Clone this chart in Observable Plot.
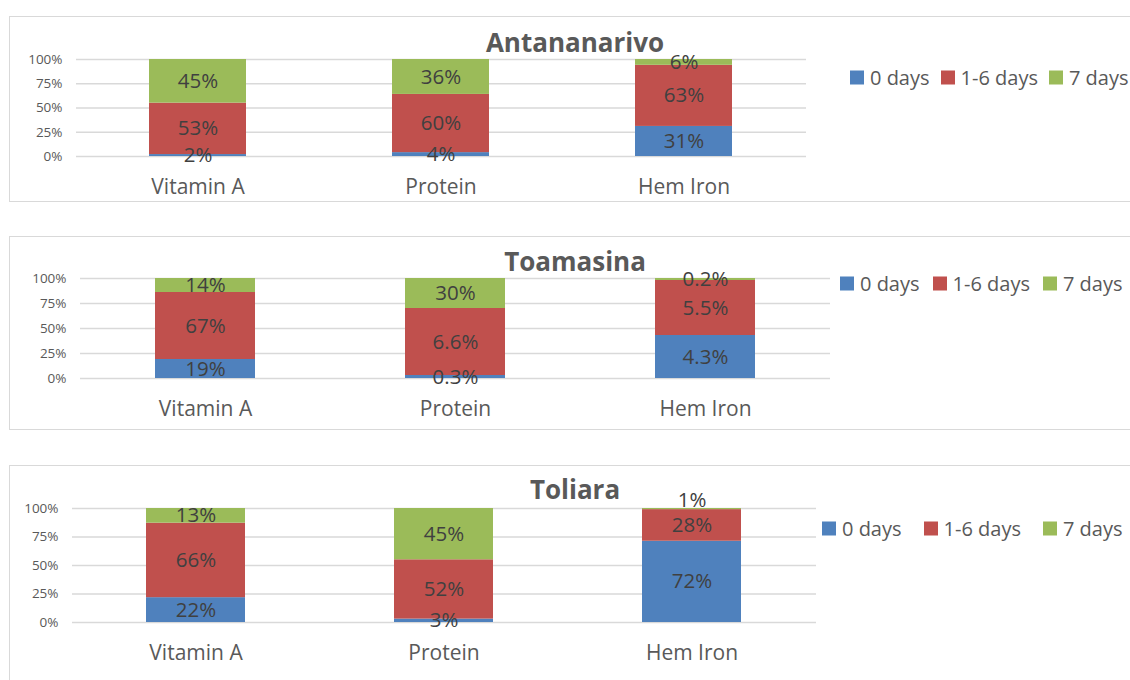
<!DOCTYPE html>
<html><head><meta charset="utf-8">
<script src="https://cdn.jsdelivr.net/npm/d3@7"></script>
<script src="https://cdn.jsdelivr.net/npm/@observablehq/plot@0.6"></script>
<style>
html,body{margin:0;padding:0;background:#fff;overflow:hidden}
#root{position:relative;width:1130px;height:680px;overflow:hidden;font-family:"Open Sans",sans-serif}
.frame{position:absolute;left:9px;width:1300px;border:1.5px solid #d9d9d9;box-sizing:border-box}
.title{position:absolute;transform:translate(-50%,-50%);font-weight:bold;font-size:26px;color:#595959;white-space:nowrap}
.legend{position:absolute;display:flex;align-items:center;font-size:20px;color:#595959;white-space:nowrap;transform:translateY(-50%)}
.sw{display:inline-block;width:14px;height:14px;margin-right:6px}
.chart{position:absolute;left:0}
</style></head><body><div id="root"></div>
<script>
const categories = ["Vitamin A", "Protein", "Hem Iron"];
const seriesNames = ["0 days", "1-6 days", "7 days"];
const seriesColors = ["#4f81bd", "#c0504d", "#9bbb59"];
const yTicks = [0, 0.25, 0.5, 0.75, 1];

const antananarivo0 = [2, 4, 31];
const antananarivo16 = [53, 60, 63];
const antananarivo7 = [45, 36, 6];

const toamasina0 = [19, 3, 43];
const toamasina16 = [67, 67, 55];
const toamasina7 = [14, 30, 2];
const toamasinaLabels0 = ["19%", "0.3%", "4.3%"];
const toamasinaLabels16 = ["67%", "6.6%", "5.5%"];
const toamasinaLabels7 = ["14%", "30%", "0.2%"];

const toliara0 = [22, 3, 72];
const toliara16 = [66, 52, 28];
const toliara7 = [13, 45, 1];

function pct(arr) { return arr.map(v => v + "%"); }

const panels = [
  {name: "Antananarivo", vals: [antananarivo0, antananarivo16, antananarivo7],
   labels: [pct(antananarivo0), pct(antananarivo16), pct(antananarivo7)], lift: false,
   frameTop: 16, frameH: 186, svgH: 185, width: 820, mL: 76, mR: 14, mT: 43, plotH: 97,
   titleX: 575, titleY: 42, legendX: 850, legendY: 77, itemGap: 11},
  {name: "Toamasina", vals: [toamasina0, toamasina16, toamasina7],
   labels: [toamasinaLabels0, toamasinaLabels16, toamasinaLabels7], lift: false,
   frameTop: 236, frameH: 194, svgH: 193, width: 845, mL: 80, mR: 15, mT: 42, plotH: 100,
   titleX: 575, titleY: 261, legendX: 840, legendY: 283, itemGap: 13},
  {name: "Toliara", vals: [toliara0, toliara16, toliara7],
   labels: [pct(toliara0), pct(toliara16), pct(toliara7)], lift: true,
   frameTop: 465, frameH: 300, svgH: 215, width: 830, mL: 72, mR: 14, mT: 43, plotH: 114,
   titleX: 575, titleY: 489, legendX: 822, legendY: 528, itemGap: 22}
];

const root = document.getElementById("root");
const fmt = d3.format(".0%");

for (const p of panels) {
  const frame = document.createElement("div");
  frame.className = "frame";
  frame.style.top = p.frameTop + "px";
  frame.style.height = p.frameH + "px";
  root.appendChild(frame);

  const rows = [];
  seriesNames.forEach((s, si) => {
    categories.forEach((c, ci) => {
      rows.push({category: c, series: s, value: p.vals[si][ci], label: p.labels[si][ci],
                 lifted: p.lift && p.vals[si][ci] <= 1});
    });
  });

  const chart = Plot.plot({
    width: p.width,
    height: p.svgH,
    marginLeft: p.mL,
    marginRight: p.mR,
    marginTop: p.mT,
    marginBottom: p.svgH - p.mT - p.plotH,
    style: {fontFamily: "'Open Sans', sans-serif", fontSize: "20px", color: "#595959", background: "transparent", overflow: "visible"},
    x: {domain: categories, paddingInner: 0.6, paddingOuter: 0.3, label: null},
    y: {domain: [0, 1], label: null},
    color: {domain: seriesNames, range: seriesColors},
    marks: [
      Plot.gridY(yTicks, {stroke: "#d9d9d9", strokeOpacity: 1, strokeWidth: 1.5}),
      Plot.barY(rows, Plot.stackY({x: "category", y: "value", fill: "series", offset: "normalize"})),
      Plot.text(rows, Plot.stackY({x: "category", y: "value", offset: "normalize",
        text: d => d.lifted ? "" : d.label, fill: "#404040", fontSize: 20.5})),
      Plot.text(rows, Plot.stackY({x: "category", y: "value", offset: "normalize",
        text: d => d.lifted ? d.label : "", fill: "#404040", fontSize: 20.5, dy: -9})),
      Plot.axisY({ticks: yTicks, tickFormat: fmt, tickSize: 0, tickPadding: 14, fontSize: 13.5, label: null}),
      Plot.axisX({tickSize: 0, tickPadding: 23, fontSize: 21, label: null})
    ]
  });
  chart.classList.add("chart");
  chart.style.top = p.frameTop + "px";
  root.appendChild(chart);

  const title = document.createElement("div");
  title.className = "title";
  title.textContent = p.name;
  title.style.left = p.titleX + "px";
  title.style.top = p.titleY + "px";
  root.appendChild(title);

  const legend = document.createElement("div");
  legend.className = "legend";
  legend.style.left = p.legendX + "px";
  legend.style.top = p.legendY + "px";
  seriesNames.forEach((s, i) => {
    const item = document.createElement("span");
    item.style.display = "inline-flex";
    item.style.alignItems = "center";
    item.style.marginRight = p.itemGap + "px";
    const sw = document.createElement("span");
    sw.className = "sw";
    sw.style.background = seriesColors[i];
    const t = document.createElement("span");
    t.textContent = s;
    item.appendChild(sw);
    item.appendChild(t);
    legend.appendChild(item);
  });
  root.appendChild(legend);
}
</script></body></html>
